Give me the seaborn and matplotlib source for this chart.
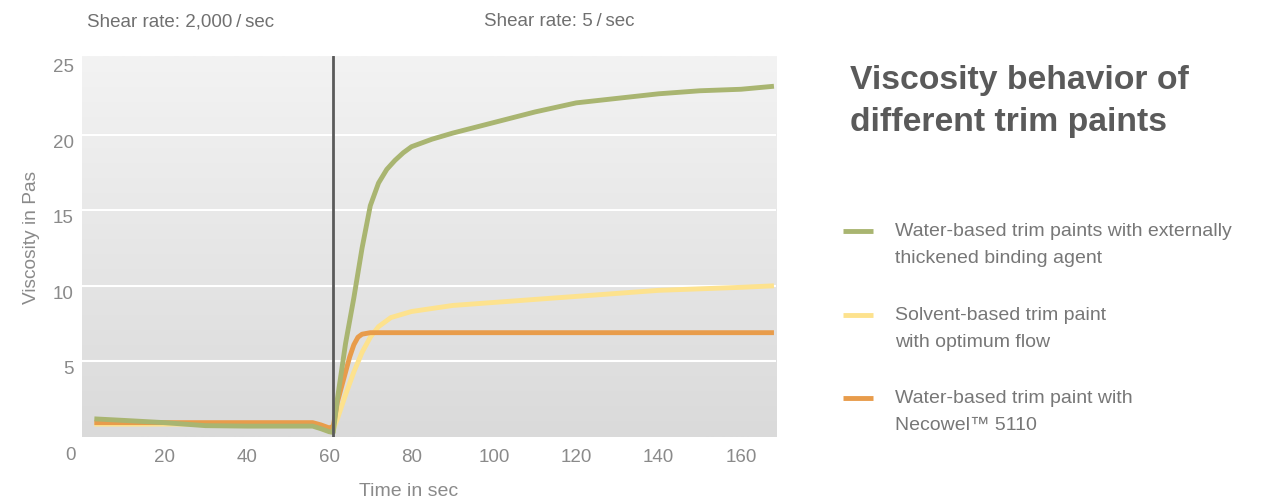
import numpy as np
import pandas as pd
import matplotlib.pyplot as plt
import seaborn as sns
from matplotlib.lines import Line2D
from matplotlib.colors import LinearSegmentedColormap

sns.set_style("white")
plt.rcParams['font.family'] = ['Liberation Sans', 'DejaVu Sans']

# data
green_t = [3, 10, 20, 30, 40, 50, 56, 58, 60, 61, 62, 64, 66, 68, 70, 72, 74, 76, 78, 80, 85, 90, 100, 110, 120, 130, 140, 150, 160, 168]
green_v = [1.2, 1.1, 0.95, 0.75, 0.72, 0.72, 0.72, 0.55, 0.35, 0.3, 2.5, 6.2, 9.2, 12.5, 15.3, 16.8, 17.7, 18.3, 18.8, 19.2, 19.7, 20.1, 20.8, 21.5, 22.1, 22.4, 22.7, 22.9, 23.0, 23.2]

yellow_t = [3, 20, 40, 56, 58, 60, 61, 62, 64, 66, 68, 70, 72, 75, 80, 90, 100, 120, 140, 160, 168]
yellow_v = [0.85, 0.85, 0.85, 0.85, 0.75, 0.6, 0.5, 1.2, 2.8, 4.3, 5.6, 6.6, 7.3, 7.9, 8.3, 8.7, 8.9, 9.3, 9.7, 9.9, 10.0]

orange_t = [3, 20, 40, 56, 58, 60, 61, 62, 64, 65, 66, 67, 68, 70, 100, 140, 168]
orange_v = [0.95, 0.95, 0.95, 0.95, 0.8, 0.6, 0.7, 2.3, 4.3, 5.3, 6.1, 6.6, 6.8, 6.9, 6.9, 6.9, 6.9]

series_names = ["Water-based trim paints with externally\nthickened binding agent",
                "Solvent-based trim paint\nwith optimum flow",
                "Water-based trim paint with\nNecowel™ 5110"]
colors = ["#a9b571", "#fde28e", "#e89c4b"]

x_ticks = [20, 40, 60, 80, 100, 120, 140, 160]
y_ticks = [5, 10, 15, 20, 25]
shear_change = 61

df = pd.concat([
    pd.DataFrame({"t": green_t, "v": green_v, "s": series_names[0]}),
    pd.DataFrame({"t": yellow_t, "v": yellow_v, "s": series_names[1]}),
    pd.DataFrame({"t": orange_t, "v": orange_v, "s": series_names[2]}),
])

fig = plt.figure(figsize=(12.68, 5), dpi=100)
ax = fig.add_axes([82 / 1268, 63 / 500, 694 / 1268, 381 / 500])

# gradient background
grad = np.linspace(0, 1, 256).reshape(-1, 1)
ax.imshow(grad, cmap=LinearSegmentedColormap.from_list("bg", ["#dadada", "#f3f3f3"]),
          extent=[0, 168.5, 0, 25.2], aspect="auto", origin="lower", zorder=0)

for y in [5, 10, 15, 20]:
    ax.axhline(y, color="white", lw=1.5, zorder=1)

# draw order: yellow, orange, green
for i in [1, 2, 0]:
    sns.lineplot(data=df[df["s"] == series_names[i]], x="t", y="v", color=colors[i],
                 lw=3.5, ax=ax, zorder=3, solid_capstyle="butt")

ax.axvline(shear_change, color="#5a5a5a", lw=2, zorder=4)

ax.set_xlim(0, 168.5)
ax.set_ylim(0, 25.2)
ax.set_xticks(x_ticks)
ax.set_yticks(y_ticks)
ax.tick_params(axis="x", length=0, pad=9, labelsize=13.5, labelcolor="#8a8a8a")
ax.tick_params(axis="y", length=0, pad=6, labelsize=13.5, labelcolor="#8a8a8a")
plt.setp(ax.get_yticklabels(), va="top")
for s in ax.spines.values():
    s.set_visible(False)
ax.set_xlabel("")
ax.set_ylabel("")

fig.text(70 / 1268, 1 - 456 / 500, "0", ha="center", va="center", fontsize=13.5, color="#8a8a8a")
fig.text(32 / 1268, 1 - 237 / 500, "Viscosity in Pas", rotation=90, ha="center", va="center",
         fontsize=13.8, color="#8a8a8a")
fig.text(409 / 1268, 1 - 491 / 500, "Time in sec", ha="center", va="center", fontsize=14, color="#8a8a8a")
fig.text(87 / 1268, 1 - 22 / 500, "Shear rate: 2,000\u2009/\u2009sec", ha="left", va="center",
         fontsize=13.5, color="#707070")
fig.text(484 / 1268, 1 - 22 / 500, "Shear rate: 5\u2009/\u2009sec", ha="left", va="center",
         fontsize=13.5, color="#707070")

fig.text(850 / 1268, 1 - 80 / 500, "Viscosity behavior of", ha="left", va="center",
         fontsize=24.3, fontweight="bold", color="#5a5a5a")
fig.text(850 / 1268, 1 - 122 / 500, "different trim paints", ha="left", va="center",
         fontsize=24.3, fontweight="bold", color="#5a5a5a")

# legend drawn by hand so the key sits level with the first line
for i, ytop in enumerate([231, 315, 398]):
    fig.add_artist(Line2D([843 / 1268, 873 / 1268], [1 - ytop / 500, 1 - ytop / 500],
                          color=colors[i], lw=3.5, solid_capstyle="butt"))
    fig.text(895 / 1268, 1 - (ytop - 8) / 500, series_names[i], ha="left", va="top",
             fontsize=14, color="#777777", linespacing=1.8)

fig.savefig("out.png", dpi=100)
